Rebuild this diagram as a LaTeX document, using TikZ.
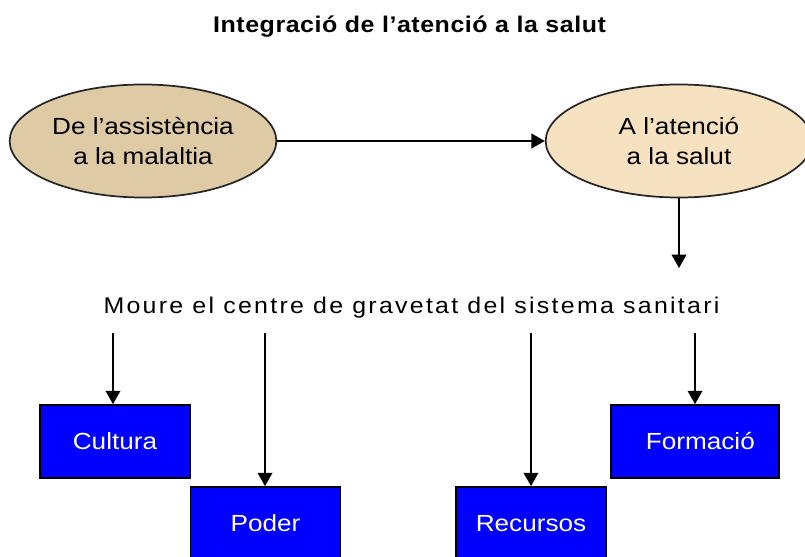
\documentclass[tikz,border=0pt]{standalone}
\usepackage{fontspec}
\setmainfont{Liberation Sans}
\newfontfamily\ovalfont[FakeStretch=1.12]{Liberation Sans}
\newfontfamily\midfont[FakeStretch=1.1,LetterSpace=10]{Liberation Sans}
\newfontfamily\titfont[FakeStretch=1.1,LetterSpace=2.5]{Liberation Sans}
\usetikzlibrary{arrows.meta, shapes.geometric}
\definecolor{sandA}{RGB}{222,203,166}
\definecolor{sandB}{RGB}{246,226,192}

\begin{document}
\begin{tikzpicture}[x=0.75pt, y=-0.75pt,
  arr/.style={-{Triangle[length=10pt, width=11pt]}, line width=1.2pt},
  oval/.style={ellipse, draw=black!85, line width=1.3pt, minimum width=200pt,
    minimum height=84.75pt, inner sep=0pt, align=center,
    font=\ovalfont\fontsize{17.5}{22.5}\selectfont},
  bluebox/.style={rectangle, draw=black, line width=1.3pt, fill=blue, text=white,
    minimum width=112.5pt, minimum height=54.75pt,
    font=\ovalfont\fontsize{17.5}{21}\selectfont}]

% Frame
\clip (0,0) rectangle (805,556);

% Title
\node[anchor=base, font=\titfont\bfseries\fontsize{17}{20}\selectfont] (title) at (409.5,33)
  {Integració de l’atenció a la salut};

% From illness to health
\node[oval, fill=sandA] (ill) at (143,141) {De l’assistència\\ a la malaltia};
\node[oval, fill=sandB] (health) at (679,141) {A l’atenció\\ a la salut};
\draw[arr] (ill) -- (health);

% Shift
\coordinate (shiftin) at (679,268);
\draw[arr] (health.south) -- (shiftin);
\node[anchor=base, font=\midfont\fontsize{17}{20}\selectfont] (shift) at (411.5,313)
  {Moure el centre de gravetat del sistema sanitari};

% Levers
\node[bluebox] (culture) at (115,441.5) {Cultura};
\node[bluebox, minimum width=126pt] (training) at (695,441.5) {\hspace{8pt}Formació};
\node[bluebox] (power) at (265.5,523.5) {Poder};
\node[bluebox] (resources) at (531,523.5) {Recursos};

\foreach \x/\b in {113/culture, 265/power, 531/resources, 695/training} {
  \coordinate (from-\b) at (\x,333);
  \draw[arr] (from-\b) -- (from-\b |- \b.north);
}
\end{tikzpicture}
\end{document}
